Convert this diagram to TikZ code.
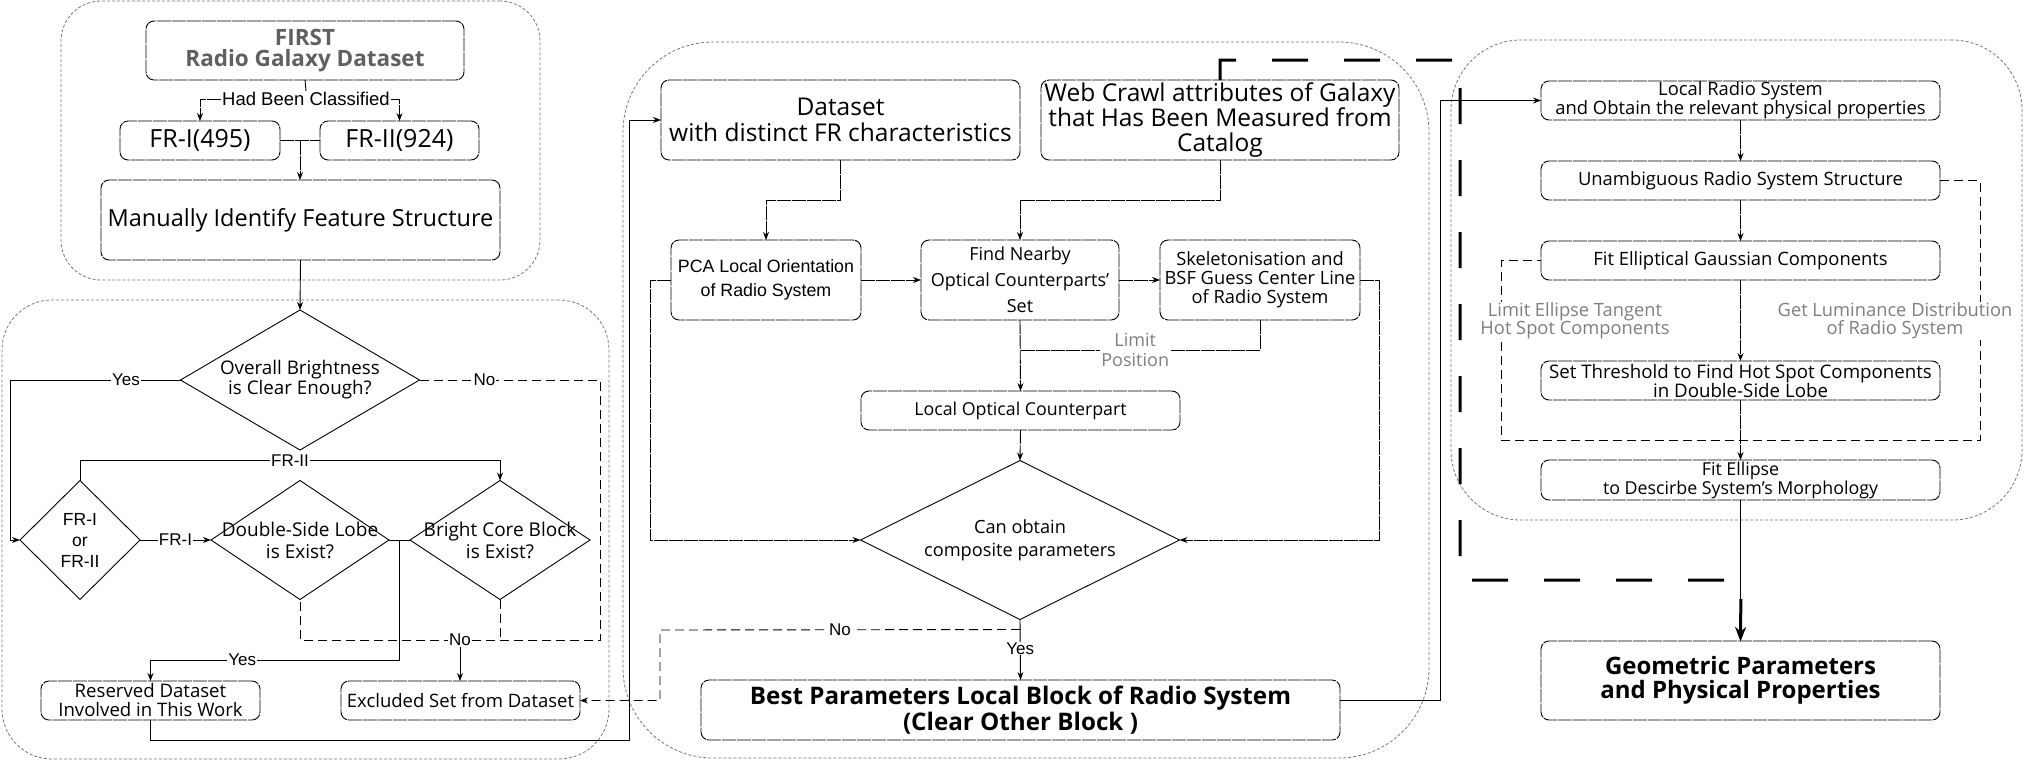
\documentclass[tikz,border=0pt]{standalone}
\usepackage{fontspec}
\setmainfont{Open Sans}
\newfontfamily\arialf{Liberation Sans}
\usetikzlibrary{shapes.geometric,arrows.meta,calc}
\definecolor{grpc}{HTML}{777777}
\definecolor{lblg}{HTML}{7F7F7F}
\definecolor{firstc}{HTML}{606060}
\newcommand{\fsz}[2]{\fontsize{#1pt}{#2pt}\selectfont}
\begin{document}
\begin{tikzpicture}[x=1pt,y=-1pt,
  every node/.style={inner sep=0pt, outer sep=0pt},
  box/.style={draw, rounded corners=8pt, line width=0.9pt, dash pattern=on 14pt off 1pt, align=center},
  grp/.style={draw=grpc, line width=0.8pt, dash pattern=on 3pt off 2pt},
  dia/.style={draw, diamond, line width=0.9pt},
  dtxt/.style={align=center},
  conn/.style={line width=0.9pt},
  gconn/.style={line width=0.9pt, dash pattern=on 14pt off 1pt},
  arr/.style={conn, -{Stealth[length=8pt,width=6pt]}},
  garr/.style={gconn, -{Stealth[length=8pt,width=6pt]}},
  dsh/.style={line width=0.9pt, dash pattern=on 9pt off 5pt},
  lbl/.style={fill=white, font=\arialf\fsz{17}{19}, inner sep=1pt},
  glbl/.style={fill=white, text=lblg, font=\fsz{18}{20}, align=center, inner sep=1pt},
  thickd/.style={line width=3pt, dash pattern=on 36pt off 36pt, -{Stealth[length=14pt,width=11pt]}},
]
\useasboundingbox (0,0) rectangle (2041,761);
\fill[white] (0,0) rectangle (2041,761);

% groups
\node[grp, rounded corners=40pt, minimum width=479pt, minimum height=279pt] (g1) at (300.5,140.5) {};
\node[grp, rounded corners=50pt, minimum width=607pt, minimum height=459pt] (g2) at (305.5,529.5) {};
\node[grp, rounded corners=90pt, minimum width=806pt, minimum height=716pt] (g3) at (1026,400) {};
\node[grp, rounded corners=70pt, minimum width=571pt, minimum height=480pt] (g4) at (1736.5,280) {};

% ---------- group 1
\node[box, minimum width=318pt, minimum height=59pt, font=\bfseries\fsz{22.5}{21}, text=firstc] (first) at (305,50.5) {FIRST\\Radio Galaxy Dataset};
\node[box, minimum width=160pt, minimum height=39pt, font=\fsz{25}{27}] (fr1) at (200,140.5) {FR-I(495)};
\node[box, minimum width=159pt, minimum height=39pt, font=\fsz{25}{27}] (fr2) at (399.5,140.5) {FR-II(924)};
\node[box, minimum width=399pt, minimum height=80pt, font=\fsz{23.5}{26}] (manual) at (300.5,220) {Manually Identify Feature Structure};
\node[lbl, font=\arialf\fsz{18.5}{20}] (hbc) at (306,99) {Had Been Classified};
\draw[gconn] (first.south) -- (hbc.north);
\draw[garr] (hbc.west) -| (fr1.north);
\draw[garr] (hbc.east) -| (fr2.north);
\draw[gconn] (fr1.east) -- (fr2.west);
\coordinate (m1) at ($(fr1.east)!0.5!(fr2.west)$);
\draw[garr] (m1) -- (m1 |- manual.north);

% ---------- group 2
\node[dia, minimum width=239pt, minimum height=140pt] (d1) at (300,380) {};
\node[dtxt, font=\fsz{18.8}{16}] at (d1) {Overall Brightness\\is Clear Enough?};
\node[dia, minimum width=120pt, minimum height=119pt] (d2) at (80,540) {};
\node[dtxt, font=\arialf\fsz{17.5}{21}] at (d2) {FR-I\\or\\FR-II};
\node[dia, minimum width=178pt, minimum height=119pt] (d3) at (300,540) {};
\node[dtxt, font=\fsz{19}{22}] at (d3) {Double-Side Lobe\\is Exist?};
\node[dia, minimum width=180pt, minimum height=119pt] (d4) at (500,540) {};
\node[dtxt, font=\fsz{19}{22}] at (d4) {Bright Core Block\\is Exist?};
\node[box, minimum width=219pt, minimum height=39pt, font=\fsz{18.6}{19}] (reserved) at (150.5,700.5) {Reserved Dataset\\Involved in This Work};
\node[box, minimum width=239pt, minimum height=39pt, font=\fsz{18.5}{20}] (excluded) at (460.5,700.5) {Excluded Set from Dataset};

\draw[arr] (manual.south) -- (d1.north);
\coordinate (yc) at (10,380);
\draw[arr] (d1.west) -- node[lbl,pos=0.32]{Yes} (yc) |- (d2.west);
\coordinate (nc1) at (600,380);
\coordinate (nc2) at (600,640);
\draw[dsh] (d1.east) -- node[lbl,pos=0.36]{No} (nc1) -- (nc2) -| (d3.south);
\draw[dsh] (d4.south) -- (d4.south |- nc2);
\node[lbl] (nob) at (460,640) {No};
\draw[arr] (nob.south) -- (nob.south |- excluded.north);
\draw[arr] (d2.north) -- ++(0,-20) -| node[lbl,pos=0.25]{FR-II} (d4.north);
\draw[arr] (d2.east) -- node[lbl]{FR-I} (d3.west);
\draw[conn] (d3.east) -- (d4.west);
\coordinate (j2) at ($(d3.east)!0.5!(d4.west)$);
\draw[arr] (j2) -- ++(0,120) -| node[lbl,pos=0.316]{Yes} (reserved.north);

% ---------- group 3
\node[box, minimum width=359pt, minimum height=80pt, font=\fsz{24.5}{26}] (dataset) at (840.5,120) {Dataset\\with distinct FR characteristics};
\node[box, minimum width=358pt, minimum height=80pt, font=\fsz{24.5}{25}] (webcrawl) at (1220,120) {Web Crawl attributes of Galaxy\\that Has Been Measured from\\Catalog};
\node[box, minimum width=190pt, minimum height=80pt, font=\arialf\fsz{17.8}{24}] (pca) at (766,280) {PCA Local Orientation\\of Radio System};
\node[box, minimum width=198pt, minimum height=80pt, font=\fsz{18}{26}] (find) at (1020,280) {Find Nearby\\Optical Counterparts'\\Set};
\node[box, minimum width=200pt, minimum height=80pt, font=\fsz{18.3}{19}] (skel) at (1260,280) {Skeletonisation and\\BSF Guess Center Line\\of Radio System};
\node[box, minimum width=319pt, minimum height=39pt, font=\fsz{17.8}{20}] (localopt) at (1020.5,410.5) {Local Optical Counterpart};
\node[dia, minimum width=319pt, minimum height=159pt] (d5) at (1020,540) {};
\node[dtxt, font=\fsz{18.2}{23}] at (d5) {Can obtain\\composite parameters};
\node[box, minimum width=639pt, minimum height=60pt, font=\bfseries\fsz{24.2}{26}] (best) at (1020.5,710) {Best Parameters Local Block of Radio System\\(Clear Other Block )};

\coordinate (rv) at (629,740);
\draw[arr] (reserved.south) |- (rv) |- (dataset.west);
\draw[garr] (dataset.south) -- ++(0,40) -| (pca.north);
\draw[garr] (webcrawl.south) -- ++(0,40) -| (find.north);
\draw[garr] (pca.east) -- (find.west);
\draw[garr] (find.east) -- (skel.west);
\coordinate (pl) at (650,280);
\draw[garr] (pca.west) -- (pl) |- (d5.west);
\coordinate (sr) at (1379,280);
\draw[garr] (skel.east) -- (sr) |- (d5.east);
\draw[garr] (find.south) -- (localopt.north);
\coordinate (lp) at (1020,350);
\draw[gconn] (skel.south) |- node[glbl,pos=0.76]{Limit\\Position} (lp);
\draw[garr] (localopt.south) -- (d5.north);
\draw[arr] (d5.south) -- node[lbl,pos=0.48]{Yes} (best.north);
\coordinate (dn) at (660,630);
\draw[dsh,-{Stealth[length=8pt,width=6pt]}] ($(d5.south)+(0,10)$) -- node[lbl]{No} (dn) |- (excluded.east);

% ---------- group 4
\node[box, minimum width=399pt, minimum height=39pt, font=\fsz{18.4}{19}] (localradio) at (1740.5,100.5) {Local Radio System\\and Obtain the relevant physical properties};
\node[box, minimum width=399pt, minimum height=39pt, font=\fsz{18.4}{20}] (unamb) at (1740.5,180.5) {Unambiguous Radio System Structure};
\node[box, minimum width=399pt, minimum height=39pt, font=\fsz{18.4}{20}] (fitell) at (1740.5,260.5) {Fit Elliptical Gaussian Components};
\node[box, minimum width=399pt, minimum height=39pt, font=\fsz{18.7}{19}] (setth) at (1740.5,380.5) {Set Threshold to Find Hot Spot Components\\in Double-Side Lobe};
\node[box, minimum width=399pt, minimum height=40pt, font=\fsz{17.8}{19}] (fitellipse) at (1740.5,480) {Fit Ellipse\\to Descirbe System's Morphology};
\node[box, minimum width=399pt, minimum height=79pt, font=\bfseries\fsz{24}{24}] (geom) at (1740.5,680.5) {Geometric Parameters\\and Physical Properties};

\coordinate (br) at (1440,700);
\draw[arr] ($(best.east)+(0,-10)$) -- (br) |- (localradio.west);
\draw[garr] (localradio.south) -- (unamb.north);
\draw[garr] (unamb.south) -- (fitell.north);
\draw[garr] (fitell.south) -- (setth.north);
\draw[garr] (setth.south) -- (fitellipse.north);
\draw[arr] (fitellipse.south) -- (geom.north);
\coordinate (lpR) at (1980,440);
\coordinate (lpL) at (1501,440);
\draw[dsh] (unamb.east) -| (lpR) -- (lpL) |- (fitell.west);
\node[glbl, font=\fsz{18.3}{18}] at (1575,321) {Limit Ellipse Tangent\\Hot Spot Components};
\node[glbl, font=\fsz{18.3}{18}] at (1895,321) {Get Luminance Distribution\\of Radio System};

% thick dashed connector
\coordinate (t1) at (1460,60);
\coordinate (t2) at (1741,580);
\draw[thickd] (webcrawl.north) |- (t1) |- (t2) -- (geom.north);
\end{tikzpicture}
\end{document}
